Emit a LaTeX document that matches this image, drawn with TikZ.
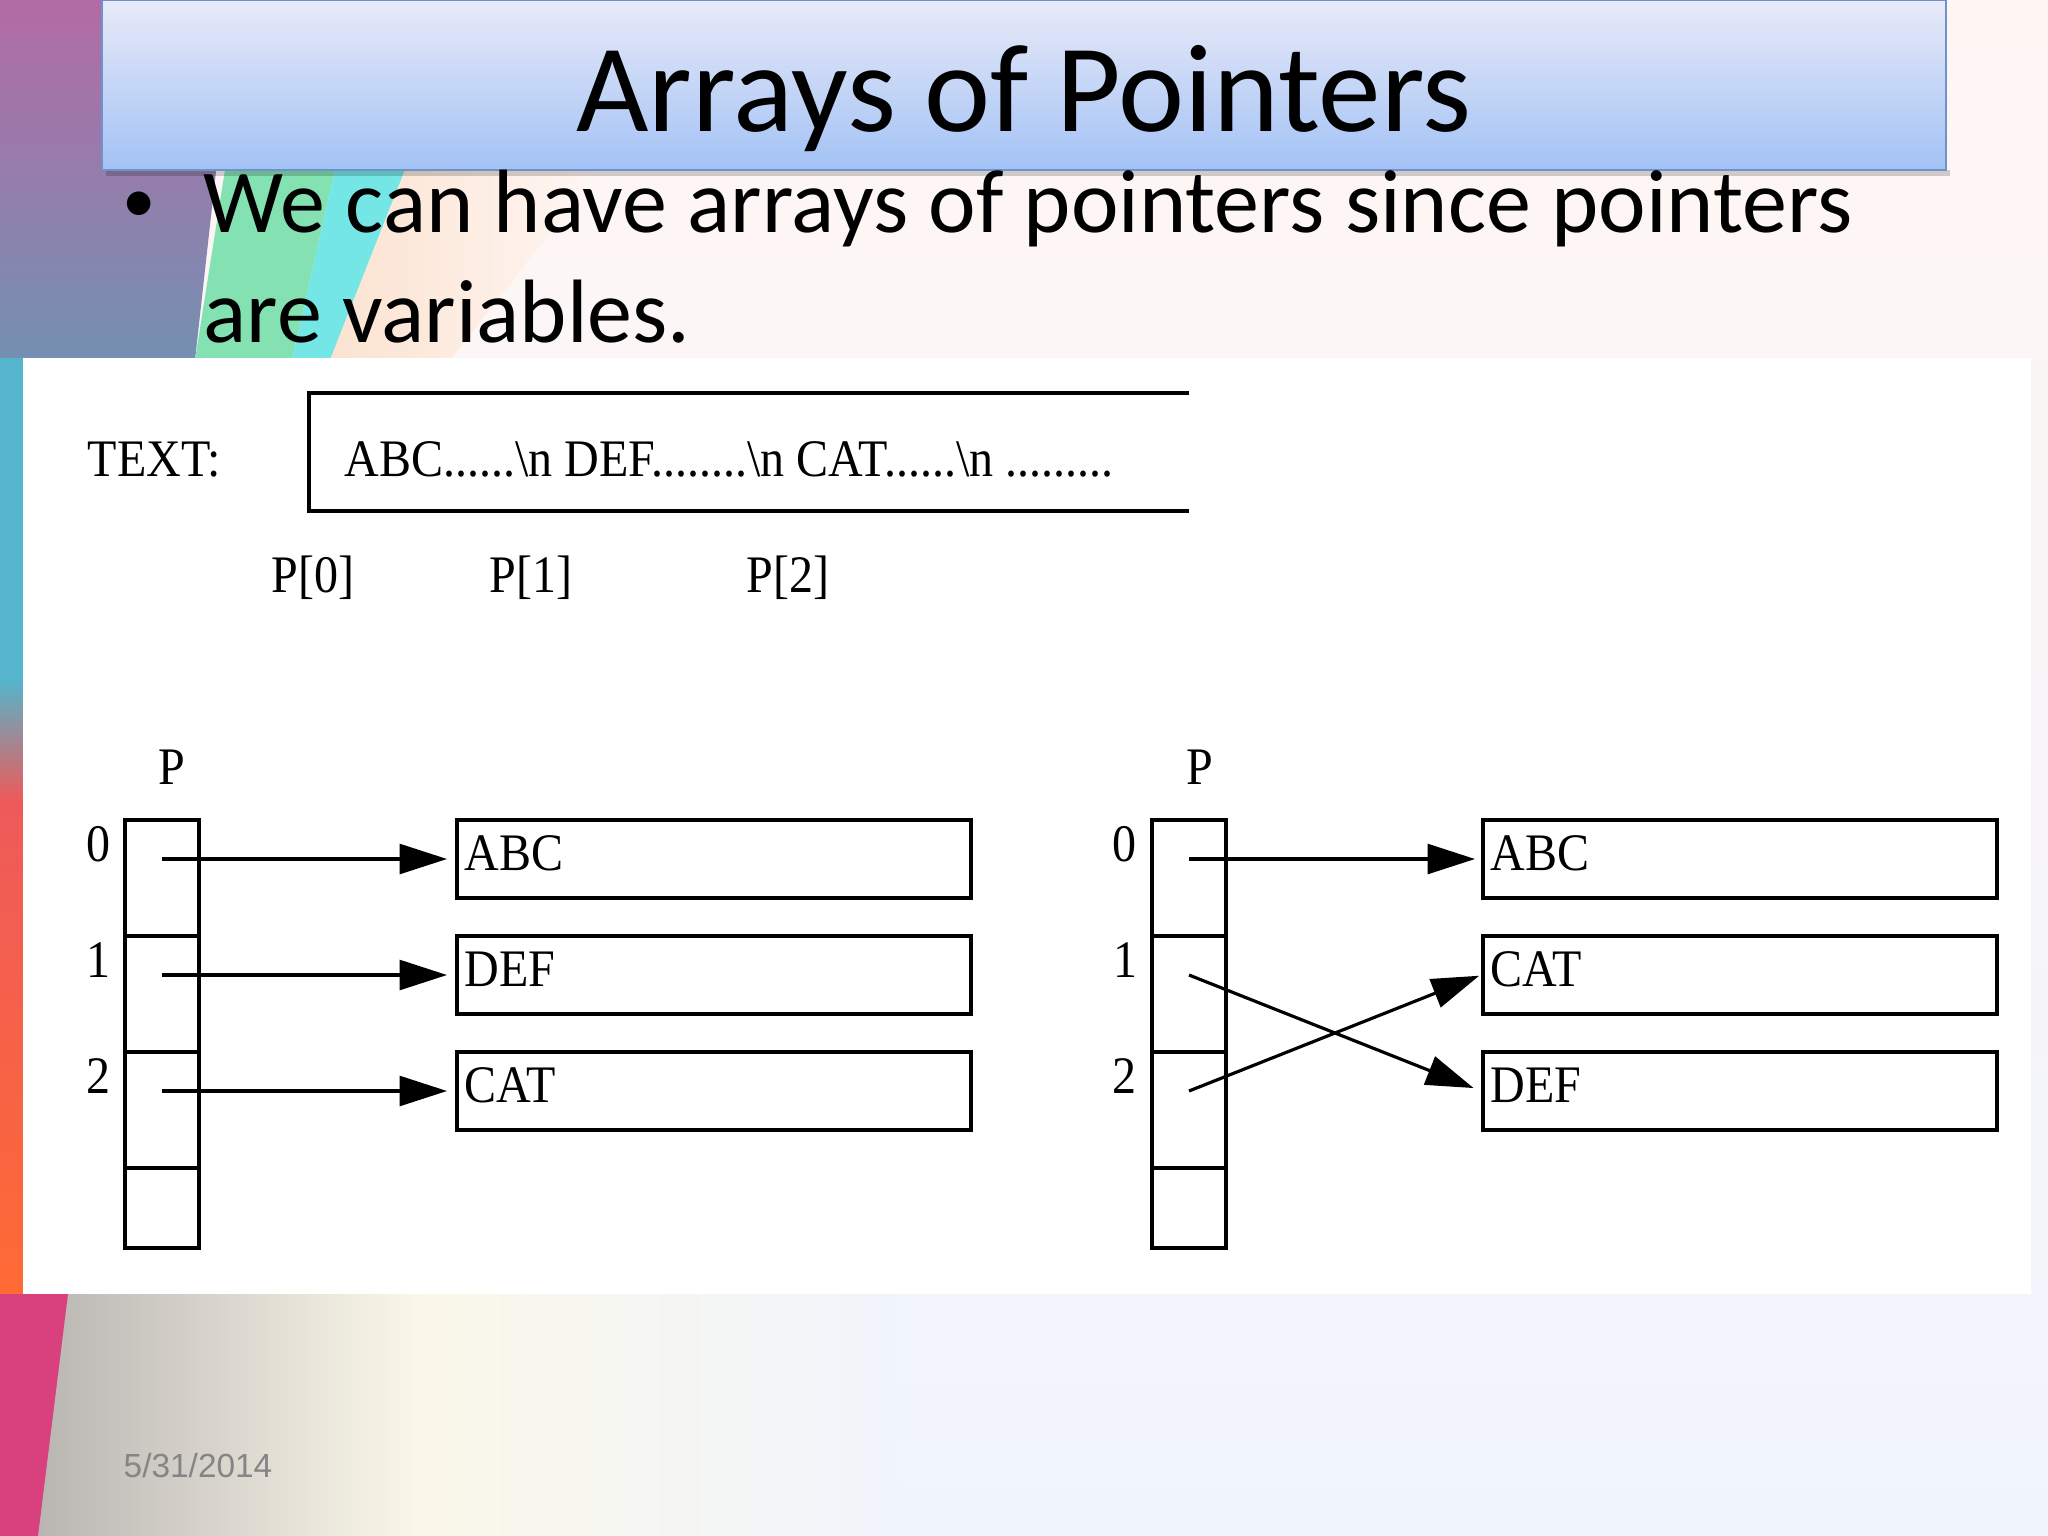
\documentclass[tikz,border=0pt]{standalone}
\usepackage{fontspec}
\usepackage{graphicx}
\setmainfont{Liberation Serif}
\newfontfamily\calib{Carlito}
\newfontfamily\arialf{Liberation Sans}
\newfontfamily\dfont[FakeStretch=0.91]{Liberation Serif}
\usetikzlibrary{arrows.meta,calc}
\definecolor{bgpink}{HTML}{FFF6F4}
\definecolor{bgblue}{HTML}{F0F5FC}
\definecolor{mauveA}{HTML}{B36BA5}
\definecolor{mauveB}{HTML}{7490B2}
\definecolor{greenS}{HTML}{84E2B2}
\definecolor{cyanS}{HTML}{74E6E6}
\definecolor{peachS}{HTML}{FBE3D0}
\definecolor{tealE}{HTML}{55B5CC}
\definecolor{orangeE}{HTML}{FF6A35}
\definecolor{redE}{HTML}{EE5A5A}
\definecolor{magE}{HTML}{D9417E}
\definecolor{grayB}{HTML}{B9B5B2}
\definecolor{creamB}{HTML}{FBF8EA}
\definecolor{titleTop}{HTML}{E8EAF8}
\definecolor{titleMid}{HTML}{CFDCF8}
\definecolor{titleBot}{HTML}{A3C2F5}
\definecolor{titleLine}{HTML}{6E93CC}
\definecolor{dateGray}{HTML}{858585}
\tikzset{
  dtext/.style={font=\dfont\fontsize{15}{18}\selectfont, inner sep=0pt},
  cellbox/.style={draw=black, line width=1.1pt, minimum width=0.74cm, inner sep=0pt},
  strbox/.style={draw=black, line width=1.1pt, minimum width=5.14cm, minimum height=0.78cm,
     text width=4.98cm, align=left, inner xsep=0.08cm, inner ysep=0pt,
     text height=0.30cm, text depth=0.08cm, font=\dfont\fontsize{15}{18}\selectfont},
  ptr/.style={line width=0.9pt, -{Triangle[length=13.5pt,width=8.5pt]}},
  bodytext/.style={font=\calib\fontsize{25.6}{30}\selectfont, inner sep=0pt},
}
\begin{document}
\begin{tikzpicture}[x=0.01cm,y=-0.01cm]
\useasboundingbox (0,0) rectangle (2048,1536);
% ---------- slide background ----------
\shade[top color=bgpink, bottom color=bgblue] (0,0) rectangle (2048,1536);
\shade[top color=mauveA, bottom color=mauveB] (0,0) -- (235,0) -- (195,360) -- (0,360) -- cycle;
\fill[greenS] (225,170) -- (335,170) -- (292,360) -- (195,360) -- cycle;
\fill[cyanS] (335,170) -- (405,170) -- (330,360) -- (292,360) -- cycle;
\shade[left color=peachS, right color=bgpink] (405,170) -- (600,170) -- (450,360) -- (330,360) -- cycle;
\shade[top color=tealE, bottom color=tealE] (0,358) rectangle (23,680);
\shade[top color=tealE, bottom color=redE] (0,680) rectangle (23,800);
\shade[top color=redE, bottom color=orangeE] (0,800) rectangle (23,1294);
\shade[left color=grayB, right color=creamB] (60,1294) -- (420,1294) -- (420,1536) -- (35,1536) -- cycle;
\shade[left color=creamB, right color=bgblue] (420,1294) rectangle (900,1536);
\fill[magE] (0,1294) -- (68,1294) -- (38,1536) -- (0,1536) -- cycle;
% ---------- title ----------
\fill[black, opacity=0.18] (106,170) rectangle (1950,176);
\shade[top color=titleTop, middle color=titleMid, bottom color=titleBot, draw=titleLine, line width=0.6pt]
  (102,0) rectangle (1946,170);
\node[font=\calib\fontsize{35.6}{42}\selectfont, anchor=base, inner sep=0pt] (title) at (1024,131) {Arrays of Pointers};
% ---------- bullet ----------
\node[font=\calib\fontsize{19}{22}\selectfont, anchor=base, inner sep=0pt] (bul) at (139,222) {•};
\node[bodytext, anchor=base west] (line1) at (203,232) {We can have arrays of pointers since pointers};
\node[bodytext, anchor=base west] (line2) at (203,342) {are variables.};
% ---------- white panel ----------
\fill[white] (23,358) rectangle (2031,1294);
% ---------- TEXT buffer ----------
\node[dtext, anchor=base west] (textlbl) at (87,476) {TEXT:};
\coordinate (tbNE) at (1189,393);
\coordinate (tbNW) at (309,393);
\coordinate (tbSW) at (309,511);
\coordinate (tbSE) at (1189,511);
\draw[line width=1.2pt] (tbNE) -- (tbNW) -- (tbSW) -- (tbSE);
\node[dtext, anchor=base west] (textval) at (344,476) {ABC......\textbackslash n DEF........\textbackslash n CAT......\textbackslash n .........};
\node[dtext, anchor=base west] (p0) at (271,592) {P[0]};
\node[dtext, anchor=base west] (p1) at (489,592) {P[1]};
\node[dtext, anchor=base west] (p2) at (746,592) {P[2]};
% ---------- left array ----------
\node[dtext, anchor=base] (lP) at (172,784) {P};
\node[cellbox, minimum height=1.16cm] (lc0) at (162,878) {};
\node[cellbox, minimum height=1.16cm] (lc1) at (162,994) {};
\node[cellbox, minimum height=1.16cm] (lc2) at (162,1110) {};
\node[cellbox, minimum height=0.80cm] (lc3) at (162,1208) {};
\node[dtext, anchor=base] (li0) at (98,861) {0};
\node[dtext, anchor=base] (li1) at (99,977) {1};
\node[dtext, anchor=base] (li2) at (98,1093) {2};
\node[strbox, anchor=west] (lb0) at (455,859) {ABC};
\node[strbox, anchor=west] (lb1) at (455,975) {DEF};
\node[strbox, anchor=west] (lb2) at (455,1091) {CAT};
\coordinate (ls0) at (162,859);
\coordinate (ls1) at (162,975);
\coordinate (ls2) at (162,1091);
\draw[ptr, shorten >=0.08cm] (ls0) -- (lb0.west);
\draw[ptr, shorten >=0.08cm] (ls1) -- (lb1.west);
\draw[ptr, shorten >=0.08cm] (ls2) -- (lb2.west);
% ---------- right array ----------
\node[dtext, anchor=base] (rP) at (1200,784) {P};
\node[cellbox, minimum height=1.16cm] (rc0) at (1189,878) {};
\node[cellbox, minimum height=1.16cm] (rc1) at (1189,994) {};
\node[cellbox, minimum height=1.16cm] (rc2) at (1189,1110) {};
\node[cellbox, minimum height=0.80cm] (rc3) at (1189,1208) {};
\node[dtext, anchor=base] (ri0) at (1124,861) {0};
\node[dtext, anchor=base] (ri1) at (1125,977) {1};
\node[dtext, anchor=base] (ri2) at (1124,1093) {2};
\node[strbox, anchor=west] (rb0) at (1481,859) {ABC};
\node[strbox, anchor=west] (rb1) at (1481,975) {CAT};
\node[strbox, anchor=west] (rb2) at (1481,1091) {DEF};
\coordinate (rs0) at (1189,859);
\coordinate (rs1) at (1189,975);
\coordinate (rs2) at (1189,1091);
\draw[ptr, shorten >=0.06cm] (rs0) -- (rb0.west);
\draw[ptr, shorten >=0.08cm] (rs1) -- (rb2.west);
\draw[ptr, shorten >=0.02cm] (rs2) -- (rb1.west);
% ---------- date ----------
\node[font=\arialf\fontsize{9.5}{11}\selectfont, text=dateGray, anchor=base west, inner sep=0pt] (date) at (123,1477) {5/31/2014};
\end{tikzpicture}
\end{document}
